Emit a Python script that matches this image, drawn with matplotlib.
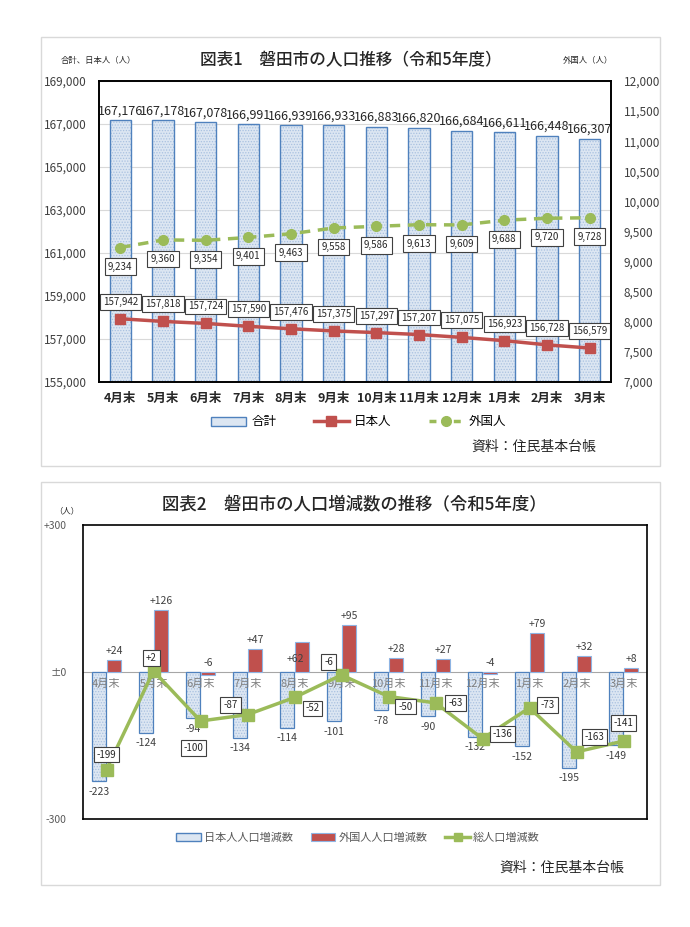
import matplotlib
matplotlib.use('Agg')
import matplotlib.pyplot as plt
from matplotlib.patches import Rectangle, Patch
from matplotlib.lines import Line2D
import numpy as np

plt.rcParams['font.family'] = ['Noto Sans CJK JP', 'DejaVu Sans']
plt.rcParams['hatch.linewidth'] = 0.6

months = ['4月末', '5月末', '6月末', '7月末', '8月末', '9月末',
          '10月末', '11月末', '12月末', '1月末', '2月末', '3月末']

# 図表1
total = [167176, 167178, 167078, 166991, 166939, 166933,
         166883, 166820, 166684, 166611, 166448, 166307]
japanese = [157942, 157818, 157724, 157590, 157476, 157375,
            157297, 157207, 157075, 156923, 156728, 156579]
foreign = [9234, 9360, 9354, 9401, 9463, 9558,
           9586, 9613, 9609, 9688, 9720, 9728]

# 図表2
jp_change = [-223, -124, -94, -134, -114, -101, -78, -90, -132, -152, -195, -149]
fr_change = [24, 126, -6, 47, 62, 95, 28, 27, -4, 79, 32, 8]
all_change = [-199, 2, -100, -87, -52, -6, -50, -63, -136, -73, -163, -141]

# label offsets for 総人口 boxes (px)
tot_off = [(0, 15), (-2, 13), (-7, -27), (-17, 10), (18, -11), (-13, 13),
           (17, -10), (20, 0), (20, 5), (18, 3), (18, 15), (0, 18)]
# 外国人 label that sits inside its bar in the original
fr_off = {4: (-7, -22)}

W, H = 690, 927
fig = plt.figure(figsize=(6.9, 9.27), dpi=100)


def box(l, t, r, b):
    return [l / W, 1 - b / H, (r - l) / W, (b - t) / H]


def px(v):
    return v * 0.72


BLUE_FILL = '#dce6f2'
BLUE_DOT = '#a9c1e0'
BLUE_EDGE = '#4f81bd'
RED = '#c0504d'
GREEN = '#9bbb59'
TXT = '#404040'

for (l, t, r, b) in [(41, 37, 660, 466), (41, 482, 660, 885)]:
    fig.patches.append(Rectangle((l / W, 1 - b / H), (r - l) / W, (b - t) / H,
                                 transform=fig.transFigure, fill=False,
                                 ec='#d9d9d9', lw=1))

x = np.arange(len(months))

# ---------- 図表1 ----------
ax1 = fig.add_axes(box(99, 81, 611, 382))
ax1.bar(x, total, 0.5, color=BLUE_FILL, edgecolor=BLUE_DOT, hatch='......', lw=0, zorder=2)
ax1.bar(x, total, 0.5, fill=False, edgecolor=BLUE_EDGE, lw=1, zorder=2)
for i, v in enumerate(total):
    ax1.annotate(f'{v:,}', (i, v), xytext=(0, 2), textcoords='offset points',
                 ha='center', va='bottom', fontsize=9, color='#262626')
ax1.plot(x, japanese, color=RED, lw=2.5, marker='s', ms=7, zorder=4)
for i, v in enumerate(japanese):
    ax1.annotate(f'{v:,}', (i, v), xytext=(0, px(17)), textcoords='offset points',
                 ha='center', va='center', fontsize=7, color='#262626', zorder=5,
                 bbox=dict(boxstyle='square,pad=0.3', fc='white', ec='#404040', lw=0.8))
ax1.set_ylim(155000, 169000)
ax1.set_yticks(range(155000, 169001, 2000))
ax1.set_yticklabels([f'{v:,}' for v in range(155000, 169001, 2000)])
ax1.set_xlim(-0.5, 11.5)
ax1.set_xticks(x)
ax1.set_xticklabels(months, fontsize=9, fontweight='bold', color='#262626')
ax1.yaxis.grid(True, color='#d9d9d9', lw=0.8)
ax1.set_axisbelow(True)
ax1.tick_params(axis='y', length=0, labelsize=8.5, labelcolor=TXT, pad=9)
ax1.tick_params(axis='x', length=0, pad=7)

ax2 = ax1.twinx()
ax2.plot(x, foreign, color=GREEN, lw=2.5, ls=(0, (3, 2.2)), marker='o', ms=7, zorder=4)
for i, v in enumerate(foreign):
    ax2.annotate(f'{v:,}', (i, v), xytext=(0, -px(19)), textcoords='offset points',
                 ha='center', va='center', fontsize=7, color='#262626', zorder=5,
                 bbox=dict(boxstyle='square,pad=0.35', fc='white', ec='#404040', lw=0.8))
ax2.set_ylim(7000, 12000)
ax2.set_yticks(range(7000, 12001, 500))
ax2.set_yticklabels([f'{v:,}' for v in range(7000, 12001, 500)])
ax2.tick_params(axis='y', length=0, labelsize=8.5, labelcolor=TXT, pad=9)
for ax in (ax1, ax2):
    for s in ax.spines.values():
        s.set_color('black')
        s.set_linewidth(1.2)

fig.text(351 / W, 1 - 60 / H, '図表1　磐田市の人口推移（令和5年度）', ha='center', va='center',
         fontsize=12, fontweight='medium', color='#262626')
fig.text(98 / W, 1 - 61 / H, '合計、日本人（人）', ha='center', va='center', fontsize=6, color='#262626')
fig.text(588 / W, 1 - 61 / H, '外国人（人）', ha='center', va='center', fontsize=6, color='#262626')

h1 = [Patch(fc=BLUE_FILL, ec=BLUE_EDGE, lw=1),
      Line2D([], [], color=RED, lw=2.5, marker='s', ms=7),
      Line2D([], [], color=GREEN, lw=2.5, ls=(0, (2, 1.5)), marker='o', ms=7)]
fig.legend(h1, ['合計', '日本人', '外国人'], loc='center', ncol=3,
           bbox_to_anchor=(359 / W, 1 - 422 / H), frameon=False, fontsize=9,
           handlelength=2.8, columnspacing=3, handletextpad=0.4)
fig.text(596 / W, 1 - 447 / H, '資料：住民基本台帳', ha='right', va='center', fontsize=10, color='#262626')

# ---------- 図表2 ----------
ax3 = fig.add_axes(box(83, 525, 647, 819))
ax3.bar(x - 0.16, jp_change, 0.3, color=BLUE_FILL, edgecolor=BLUE_DOT, hatch='......', lw=0, zorder=2)
ax3.bar(x - 0.16, jp_change, 0.3, fill=False, edgecolor=BLUE_EDGE, lw=0.9, zorder=2)
ax3.bar(x + 0.16, fr_change, 0.3, color=RED, edgecolor='#8eb4e3', lw=0.8, zorder=2)
ax3.axhline(0, color='#a6a6a6', lw=0.8, zorder=1)
ax3.plot(x, all_change, color=GREEN, lw=2.5, marker='s', ms=8, zorder=4)

for i, v in enumerate(jp_change):
    ax3.annotate(f'{v}', (i - 0.16, v), xytext=(0, -4), textcoords='offset points',
                 ha='center', va='top', fontsize=7.5, color=TXT)
for i, v in enumerate(fr_change):
    dx, dy = fr_off.get(i, (0, 4))
    ax3.annotate(f'{v:+d}', (i + 0.16, max(v, 0)), xytext=(px(dx), px(dy)), textcoords='offset points',
                 ha='center', va='bottom', fontsize=7.5, color=TXT, zorder=3)
for i, m in enumerate(months):
    ax3.annotate(m, (i, 0), xytext=(0, -5), textcoords='offset points',
                 ha='center', va='top', fontsize=8, color='#7f7f7f', zorder=3)
for i, v in enumerate(all_change):
    dx, dy = tot_off[i]
    ax3.annotate(f'{v:+d}' if v > 0 else f'{v}', (i, v), xytext=(px(dx), px(dy)),
                 textcoords='offset points', ha='center', va='center', fontsize=7,
                 color='#262626', zorder=5,
                 bbox=dict(boxstyle='square,pad=0.3', fc='white', ec='#404040', lw=0.8))

ax3.set_xlim(-0.5, 11.5)
ax3.set_ylim(-300, 300)
ax3.set_xticks([])
ax3.set_yticks([-300, 0, 300])
ax3.set_yticklabels(['-300', '±0', '+300'])
ax3.tick_params(axis='y', length=0, labelsize=7.5, labelcolor='#595959', pad=12)
for s in ax3.spines.values():
    s.set_color('black')
    s.set_linewidth(1.2)

fig.text(354 / W, 1 - 505 / H, '図表2　磐田市の人口増減数の推移（令和5年度）', ha='center', va='center',
         fontsize=12.5, fontweight='medium', color='#262626')
fig.text(67 / W, 1 - 511 / H, '（人）', ha='center', va='center', fontsize=6, color='#262626')

h2 = [Patch(fc=BLUE_FILL, ec=BLUE_EDGE, lw=1),
      Patch(fc=RED, ec='#8eb4e3', lw=0.8),
      Line2D([], [], color=GREEN, lw=2.5, marker='s', ms=6)]
fig.legend(h2, ['日本人人口増減数', '外国人人口増減数', '総人口増減数'], loc='center', ncol=3,
           bbox_to_anchor=(358 / W, 1 - 838 / H), frameon=False, fontsize=8,
           labelcolor='#595959', handlelength=2.2, columnspacing=1.6, handletextpad=0.3)
fig.text(624 / W, 1 - 868 / H, '資料：住民基本台帳', ha='right', va='center', fontsize=10, color='#262626')

fig.savefig('out.png', dpi=100, facecolor='white')
